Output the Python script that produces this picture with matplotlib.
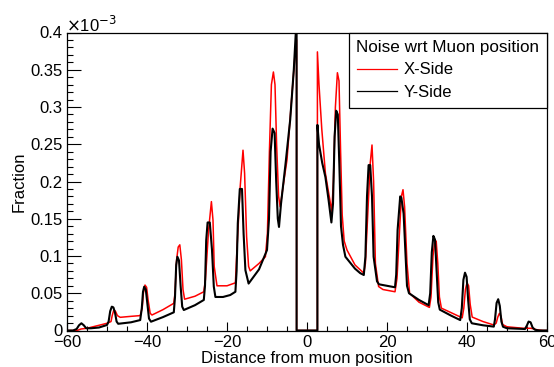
import numpy as np
import matplotlib.pyplot as plt
from matplotlib.ticker import MultipleLocator, FixedLocator

plt.rcParams['font.family'] = ['Liberation Sans', 'DejaVu Sans']

# valeurs (fraction en unités de 1e-3)
x_side_x = [-60, -57.5, -56.5, -55, -52, -50, -49.0, -48.7, -48.3, -47.9, -47.4, -46.7, -44, -41.7,
            -41.2, -40.9, -40.5, -40.1, -39.7, -39.2, -38.75, -36, -33.3, -33.0, -32.6, -32.2, -31.8,
            -31.4, -31.0, -30.6, -28, -25.8, -25.4, -24.6, -23.9, -23.5, -23.2, -22.5, -20, -17.9,
            -17.5, -16.7, -16.0, -15.6, -15.1, -14.6, -14.2, -12, -10.4, -9.9, -9.4, -8.9, -8.4, -8.0,
            -7.6, -7.1, -6.7, -5.8, -5.0, -4.0, -3.0, -2.7, -2.6, -2.6, 2.6, 2.6, 3.0, 3.7, 4.6, 5.4,
            6.2, 6.6, 7.1, 7.6, 8.0, 8.4, 8.8, 9.3, 10, 12, 14.2, 14.6, 15.0, 15.8, 16.25, 16.65, 17.1,
            17.9, 19, 22, 22.5, 23.15, 23.6, 24.0, 24.4, 25.0, 25.65, 28, 30.6, 31.0, 31.5, 31.9, 32.3,
            32.7, 33.1, 33.6, 36, 38.8, 39.2, 39.6, 40.0, 40.4, 40.8, 41.3, 44, 46.7, 47.3, 47.7, 48.1,
            48.5, 48.9, 50, 54, 56, 57.5, 59, 60]
x_side_y = [0, 0, 0.002, 0.003, 0.007, 0.0097, 0.012, 0.020, 0.0275, 0.026, 0.020, 0.0177, 0.019, 0.020,
            0.030, 0.050, 0.061, 0.058, 0.040, 0.023, 0.0208, 0.028, 0.0365, 0.050, 0.095, 0.112, 0.115,
            0.095, 0.055, 0.042, 0.046, 0.052, 0.068, 0.135, 0.173, 0.148, 0.086, 0.060, 0.060, 0.064,
            0.110, 0.193, 0.242, 0.211, 0.126, 0.086, 0.080, 0.090, 0.099, 0.130, 0.240, 0.330, 0.347, 0.330,
            0.250, 0.180, 0.166, 0.200, 0.229, 0.300, 0.370, 0.390, 0.390, 0, 0, 0.374, 0.330, 0.270, 0.211, 0.185,
            0.160, 0.200, 0.300, 0.346, 0.335, 0.240, 0.155, 0.120, 0.108, 0.088, 0.077, 0.090, 0.135, 0.224, 0.249, 0.200, 0.090,
            0.059, 0.055, 0.052, 0.070, 0.135, 0.180, 0.189, 0.166, 0.090, 0.050, 0.038, 0.031, 0.045, 0.100, 0.117, 0.120,
            0.090, 0.045, 0.030, 0.024, 0.017, 0.030, 0.055, 0.064, 0.060, 0.035, 0.018, 0.012, 0.0074, 0.010, 0.018, 0.023,
            0.019, 0.008, 0.005, 0.003, 0.003, 0.001, 0, 0]

y_side_x = [-60, -58.5, -57.6, -57.0, -56.4, -55.8, -55.2, -54, -52, -50, -49.6, -49.2, -48.8, -48.4,
            -48.0, -47.6, -47.2, -44, -41.7, -41.3, -41.0, -40.7, -40.3, -39.9, -39.5, -39.0, -36, -33.3,
            -33.0, -32.7, -32.4, -32.0, -31.6, -31.2, -30.8, -28, -25.8, -25.5, -25.2, -24.85, -24.3,
            -23.75, -23.3, -22.9, -21, -19.2, -17.9, -17.6, -17.3, -16.8, -16.25, -15.85, -15.4, -14.6,
            -12, -10, -9.5, -9.1, -8.6, -8.1, -7.7, -7.3, -7.0, -6.5, -5.4, -4.2, -3.3, -2.7, -2.6, -2.6,
            2.6, 2.6, 3.0, 3.8, 4.6, 5.4, 6.1, 6.5, 6.9, 7.3, 7.7, 8.1, 8.5, 9.0, 9.6, 12, 13.3, 14.2,
            14.6, 15.0, 15.4, 15.8, 16.25, 16.65, 17.5, 18, 22, 22.3, 22.65, 23.3, 23.6, 24.15, 24.6,
            25.0, 25.5, 28, 30.4, 30.8, 31.2, 31.6, 32.0, 32.4, 32.8, 33.2, 36, 38.3, 38.7, 39.1, 39.5,
            39.9, 40.3, 40.7, 41.2, 44, 46.7, 47.0, 47.4, 47.8, 48.2, 48.6, 49.0, 50, 54.5, 55.0, 55.4,
            55.9, 56.4, 57, 58, 60]
y_side_y = [0, 0, 0.002, 0.007, 0.0097, 0.007, 0.003, 0.003, 0.004, 0.0074, 0.012, 0.026, 0.032, 0.031,
            0.024, 0.012, 0.009, 0.011, 0.014, 0.030, 0.052, 0.0588, 0.055, 0.035, 0.016, 0.0118, 0.018, 0.0244,
            0.045, 0.088, 0.099, 0.094, 0.060, 0.032, 0.0275, 0.034, 0.041, 0.060, 0.121, 0.145, 0.145,
            0.108, 0.059, 0.045, 0.045, 0.0476, 0.052, 0.080, 0.144, 0.190, 0.190, 0.130, 0.081, 0.063,
            0.082, 0.108, 0.150, 0.240, 0.271, 0.265, 0.200, 0.150, 0.139, 0.170, 0.222, 0.283, 0.350, 0.410, 0.410, 0,
            0, 0.276, 0.250, 0.225, 0.206, 0.175, 0.145, 0.170, 0.260, 0.295, 0.290, 0.220, 0.140, 0.115, 0.099, 0.083, 0.077, 0.0745,
            0.099, 0.180, 0.222, 0.222, 0.180, 0.099, 0.066, 0.062, 0.058, 0.075, 0.135, 0.180, 0.178, 0.157, 0.104,
            0.060, 0.050, 0.041, 0.034, 0.050, 0.105, 0.127, 0.122, 0.080, 0.038, 0.028, 0.020, 0.014, 0.030, 0.068, 0.0776,
            0.072, 0.040, 0.015, 0.0097, 0.007, 0.0052, 0.015, 0.037, 0.042, 0.033, 0.012, 0.005, 0.003, 0.002, 0.007, 0.012,
            0.011, 0.004, 0.001, 0, 0]

fig = plt.figure(figsize=(5.54, 3.67), dpi=100)
ax = fig.add_axes([67/554, 36.5/367, 480/554, 298/367])

ax.plot(x_side_x, x_side_y, color='red', lw=1.1, label='X-Side')
ax.plot(y_side_x, y_side_y, color='black', lw=1.5, label='Y-Side')

ax.set_xlim(-60, 60)
ax.set_ylim(0, 0.4)
ax.xaxis.set_minor_locator(MultipleLocator(5))
ax.yaxis.set_major_locator(FixedLocator([0, 0.05, 0.1, 0.15, 0.2, 0.25, 0.3, 0.35, 0.4]))
ax.yaxis.set_minor_locator(MultipleLocator(0.01))
ax.set_yticklabels(['0', '0.05', '0.1', '0.15', '0.2', '0.25', '0.3', '0.35', '0.4'])
ax.set_xticks([-60, -40, -20, 0, 20, 40, 60])
ax.set_xticklabels(['\u221260', '\u221240', '\u221220', '0', '20', '40', '60'])
ax.tick_params(axis='x', which='major', direction='in', length=6.5, width=0.8, labelsize=12, pad=3)
ax.tick_params(axis='x', which='minor', direction='in', length=3.3, width=0.8)
ax.tick_params(axis='y', which='major', direction='in', length=10, width=0.8, labelsize=12, pad=3)
ax.tick_params(axis='y', which='minor', direction='in', length=4.5, width=0.8)
for s in ax.spines.values():
    s.set_linewidth(0.9)

ax.set_xlabel('Distance from muon position', fontsize=12, labelpad=1)
ax.set_ylabel('Fraction', fontsize=12, labelpad=3)
fig.text(66/554, 1 - 32/367, r'$\times$10$^{-3}$', fontsize=12, ha='left', va='baseline')

leg = ax.legend(title='Noise wrt Muon position', loc='upper right', bbox_to_anchor=(1.0, 1.0),
                borderaxespad=0, fancybox=False, edgecolor='black', framealpha=1,
                fontsize=12, title_fontsize=12.3, alignment='left', handlelength=2.4,
                handletextpad=0.4, labelspacing=0.45, borderpad=0.45)
leg.get_frame().set_linewidth(0.9)
for line in leg.get_lines():
    line.set_linewidth(0.9)

fig.savefig('out.png', dpi=100)
